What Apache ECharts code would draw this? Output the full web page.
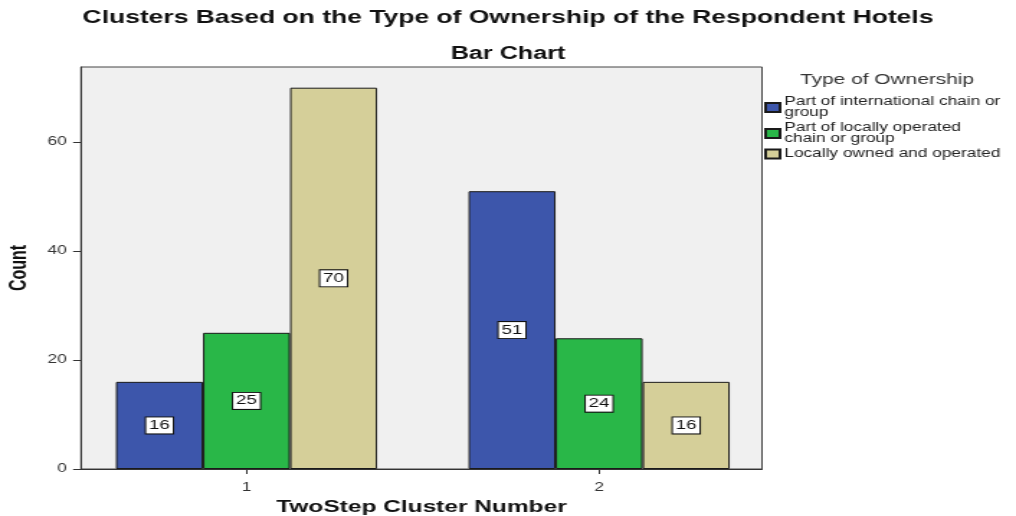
<!DOCTYPE html>
<html><head><meta charset="utf-8">
<script src="https://cdn.jsdelivr.net/npm/echarts@6/dist/echarts.min.js"></script>
<style>
html,body{margin:0;padding:0;background:#fff;overflow:hidden;width:1016px;height:516px}
#c{width:706px;height:516px;transform:scaleX(1.43909);transform-origin:0 0}
</style>
</head><body><div id="c"></div>
<script>
const clusters = [1, 2];
const seriesNames = ['Part of international chain or group', 'Part of locally operated chain or group', 'Locally owned and operated'];
const legendLabels = ['Part of international chain or\ngroup', 'Part of locally operated\nchain or group', 'Locally owned and operated'];
const intlChain = [16, 51];
const localChain = [25, 24];
const localOwned = [70, 16];
const yTicks = [0, 20, 40, 60];
const colors = ['#3D56AB', '#29B748', '#D5CF99'];

const values = [intlChain, localChain, localOwned];
const chart = echarts.init(document.getElementById('c'), null, {renderer: 'canvas', width: 706, height: 516});
const font = 'Liberation Sans, Arial, sans-serif';
chart.setOption({
  animation: false,
  title: [
    {text: 'Clusters Based on the Type of Ownership of the Respondent Hotels', left: 'center', top: 9, padding: 0,
     textStyle: {fontFamily: font, fontSize: 18.4, fontWeight: 'bold', color: '#111'}},
    {text: 'Bar Chart', left: 'center', top: 45, padding: 0, textStyle: {fontFamily: font, fontSize: 17.5, fontWeight: 'bold', color: '#111'}},
    {text: 'Type of Ownership', left: 556, top: 72, padding: 0, textStyle: {fontFamily: font, fontSize: 14.5, fontWeight: 'normal', color: '#333'}}
  ],
  legend: {
    orient: 'vertical', left: 531, top: 96, padding: 0, itemWidth: 10, itemHeight: 9, itemGap: 3,
    icon: 'rect',
    data: seriesNames,
    formatter: n => legendLabels[seriesNames.indexOf(n)],
    textStyle: {fontFamily: font, fontSize: 12, lineHeight: 11, color: '#222', padding: [0,0,0,-2]}
  },
  grid: {left: 56.3, right: 176.5, top: 67, bottom: 47, outerBoundsMode: 'none', show: true, backgroundColor: '#F0F0F0', borderColor: '#444', borderWidth: 1},
  xAxis: {
    type: 'value', min: 0.5306, max: 2.462,
    name: 'TwoStep Cluster Number', nameLocation: 'middle', nameGap: 29,
    nameTextStyle: {fontFamily: font, fontSize: 17, fontWeight: 'bold', color: '#111', verticalAlign: 'top'},
    axisLine: {show: true, lineStyle: {color: '#333'}},
    axisTick: {show: true, length: 5, customValues: clusters, lineStyle: {color: '#333'}},
    axisLabel: {customValues: clusters, fontFamily: font, fontSize: 12, color: '#333', margin: 13},
    splitLine: {show: false}
  },
  yAxis: {
    type: 'value', min: 0, max: 73.8,
    name: 'Count', nameLocation: 'middle', nameGap: 32, nameRotate: 90,
    nameTextStyle: {fontFamily: font, fontSize: 16, fontWeight: 'bold', color: '#111'},
    axisLine: {show: true, lineStyle: {color: '#333'}},
    axisTick: {show: true, length: 5.5, customValues: yTicks, lineStyle: {color: '#333'}},
    axisLabel: {customValues: yTicks, fontFamily: font, fontSize: 12, color: '#333', margin: 10},
    splitLine: {show: false}
  },
  series: seriesNames.map((n, i) => ({
    name: n, type: 'bar', barWidth: 60.5, barGap: '0%',
    data: clusters.map((c, j) => [c, values[i][j]]),
    itemStyle: {color: colors[i], borderColor: '#1a1a1a', borderWidth: 1},
    label: {show: true, position: 'inside', formatter: p => p.value[1],
      backgroundColor: '#fff', borderColor: '#111', borderWidth: 1, padding: [2, 2, 1, 2],
      fontFamily: font, fontSize: 13, color: '#111'}
  }))
});
</script></body></html>
